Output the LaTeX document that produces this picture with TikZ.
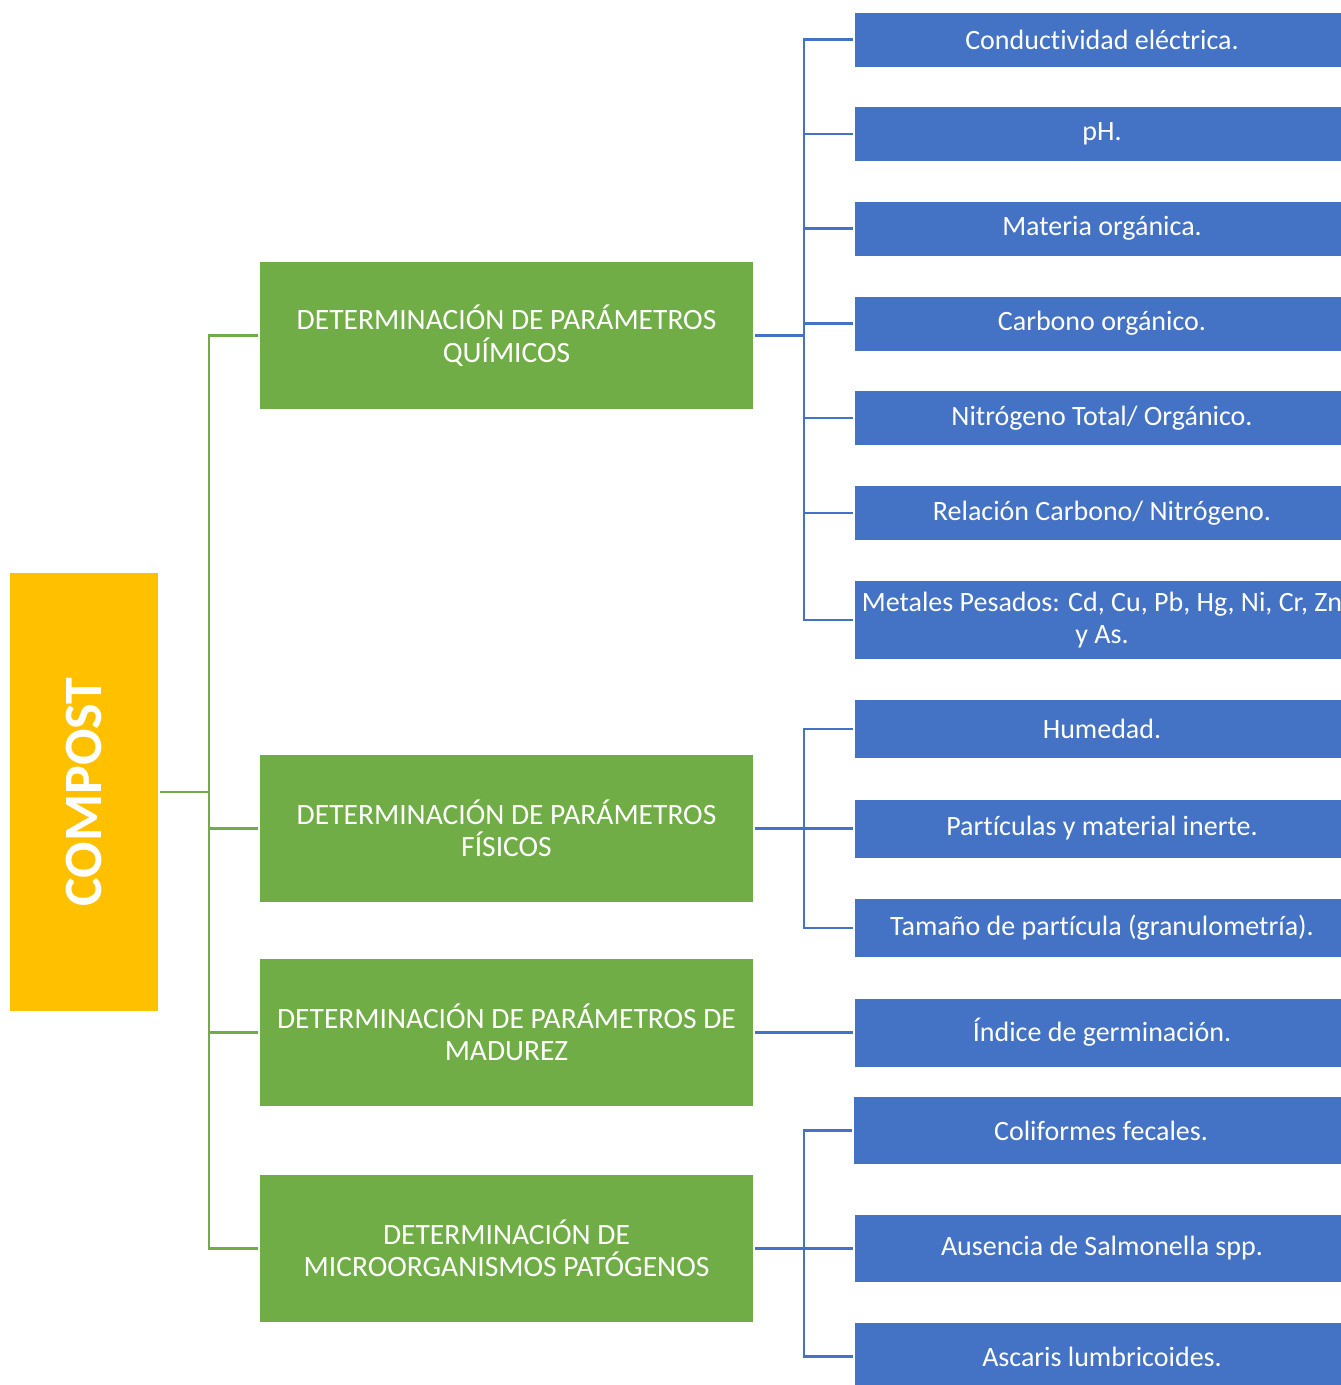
\documentclass[tikz,border=0pt]{standalone}
\usepackage{fontspec}
\setmainfont{Carlito}[Ligatures=NoCommon]
\definecolor{verde}{HTML}{70AD47}
\definecolor{azul}{HTML}{4472C4}
\definecolor{amarillo}{HTML}{FFC000}

\begin{document}
\begin{tikzpicture}[x=1pt,y=-1pt,
	grupo/.style={fill=verde, text=white, minimum width=493pt, minimum height=147pt,
		align=center, inner sep=0pt, outer sep=2pt, font=\fontsize{29.5}{32.5}\selectfont},
	item/.style={fill=azul, text=white, minimum width=494pt, minimum height=54pt,
		align=center, inner sep=0pt, outer sep=2pt, font=\fontsize{28}{32}\selectfont},
	lineav/.style={draw=verde, line width=2.8pt},
	lineaz/.style={draw=azul, line width=2.8pt}]
	\useasboundingbox (0,0) rectangle (1341,1385);
	
	% raiz
	\node[fill=amarillo, text=white, rotate=90, minimum width=438pt, minimum height=148pt,
		inner sep=0pt, outer sep=2pt, font=\fontsize{54}{60}\selectfont\bfseries] (compost) at (84,792) {COMPOST};
	
	% grupos
	\node[grupo] (quimicos) at (506.5,335.5) {DETERMINACIÓN DE PARÁMETROS\\QUÍMICOS};
	\node[grupo] (fisicos) at (506.5,828.5) {DETERMINACIÓN DE PARÁMETROS\\FÍSICOS};
	\node[grupo] (madurez) at (506.5,1032.5) {DETERMINACIÓN DE PARÁMETROS DE\\MADUREZ};
	\node[grupo] (patogenos) at (506.5,1248.5) {DETERMINACIÓN DE\\MICROORGANISMOS PATÓGENOS};
	
	% parametros quimicos
	\node[item] (conduct) at (1102,39.5) {Conductividad eléctrica.};
	\node[item] (ph) at (1102,134) {pH.};
	\node[item] (materia) at (1102,228.5) {Materia orgánica.};
	\node[item] (carbono) at (1102,323.5) {Carbono orgánico.};
	\node[item] (nitrogeno) at (1102,418) {Nitrógeno Total/ Orgánico.};
	\node[item] (relacion) at (1102,513) {Relación Carbono/ Nitrógeno.};
	\node[item, minimum height=78pt] (metales) at (1102,620) {Metales Pesados: Cd, Cu, Pb, Hg, Ni, Cr, Zn\\y As.};
	
	% parametros fisicos
	\node[item, minimum height=58pt] (humedad) at (1102,729) {Humedad.};
	\node[item, minimum height=58pt] (particulas) at (1102,828.5) {Partículas y material inerte.};
	\node[item, minimum height=58pt] (tamano) at (1102,928) {Tamaño de partícula (granulometría).};
	
	% madurez
	\node[item, minimum height=68pt] (indice) at (1102,1032.5) {Índice de germinación.};
	
	% patogenos
	\node[item, minimum height=67pt] (coliformes) at (1101,1130.5) {Coliformes fecales.};
	\node[item, minimum height=67pt] (salmonella) at (1102,1248.5) {Ausencia de Salmonella spp.};
	\node[item, minimum height=67pt] (ascaris) at (1102,1356.5) {Ascaris lumbricoides.};
	
	% conectores verdes
	\coordinate (tronco) at (209,792);
	\draw[lineav] (compost.south) -- (tronco);
	\draw[lineav] (quimicos.west) -- (quimicos.west -| tronco) -- (patogenos.west -| tronco) -- (patogenos.west);
	\draw[lineav] (fisicos.west -| tronco) -- (fisicos.west);
	\draw[lineav] (madurez.west -| tronco) -- (madurez.west);
	
	% conectores azules
	\coordinate (rama) at (804,0);
	\draw[lineaz] (quimicos.east) -- (quimicos.east -| rama);
	\draw[lineaz] (conduct.west) -- (conduct.west -| rama) -- (metales.west -| rama) -- (metales.west);
	\draw[lineaz] (ph.west -| rama) -- (ph.west);
	\draw[lineaz] (materia.west -| rama) -- (materia.west);
	\draw[lineaz] (carbono.west -| rama) -- (carbono.west);
	\draw[lineaz] (nitrogeno.west -| rama) -- (nitrogeno.west);
	\draw[lineaz] (relacion.west -| rama) -- (relacion.west);
	
	\draw[lineaz] (fisicos.east) -- (fisicos.east -| rama);
	\draw[lineaz] (humedad.west) -- (humedad.west -| rama) -- (tamano.west -| rama) -- (tamano.west);
	\draw[lineaz] (particulas.west -| rama) -- (particulas.west);
	
	\draw[lineaz] (madurez.east) -- (indice.west);
	
	\draw[lineaz] (patogenos.east) -- (patogenos.east -| rama);
	\draw[lineaz] (coliformes.west) -- (coliformes.west -| rama) -- (ascaris.west -| rama) -- (ascaris.west);
	\draw[lineaz] (salmonella.west -| rama) -- (salmonella.west);
	
\end{tikzpicture}
\end{document}
